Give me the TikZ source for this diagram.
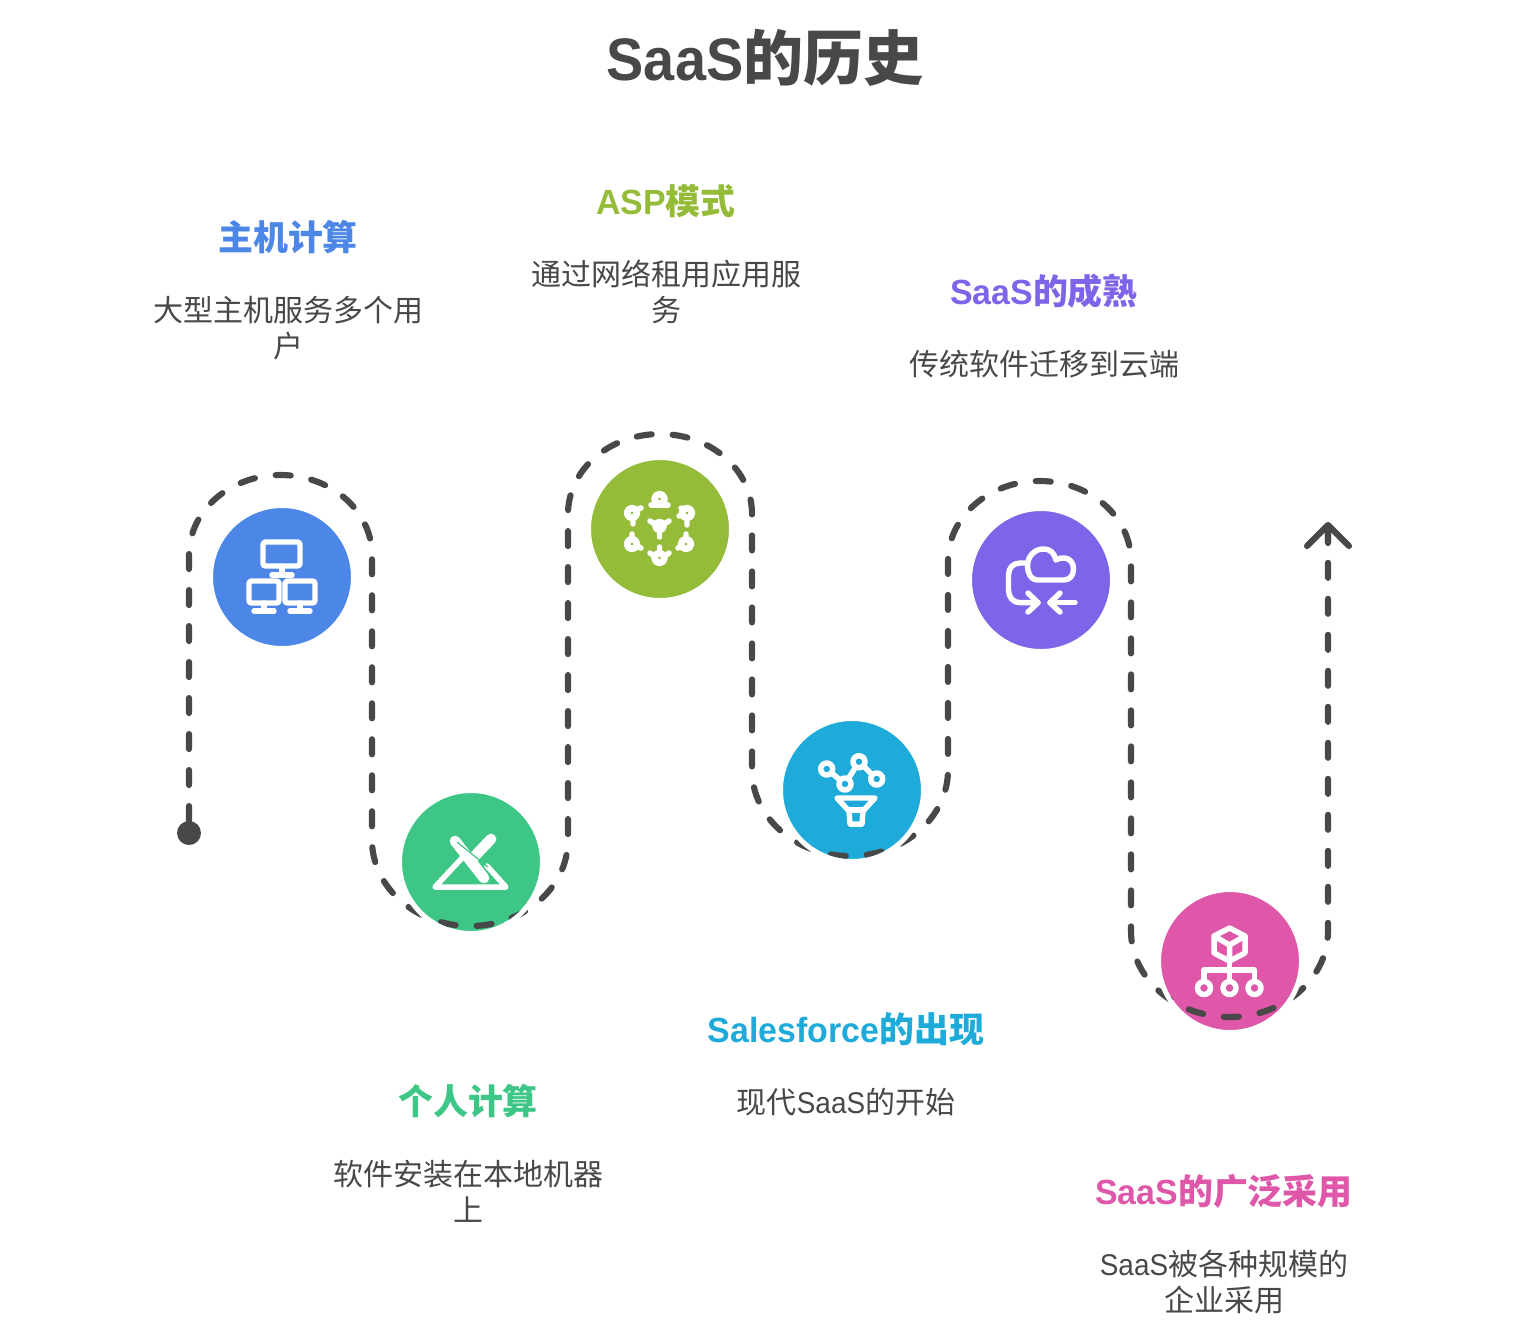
\documentclass[tikz,border=0pt]{standalone}
\usepackage{fontspec}
\setmainfont[FakeStretch=0.93]{Liberation Sans}
\newfontfamily\headfont[FakeStretch=0.97]{Liberation Sans}
\newfontfamily\cjk{Noto Sans CJK SC}
\definecolor{darkText}{HTML}{484848}
\definecolor{mainBlue}{HTML}{4C87E8}
\definecolor{pcGreen}{HTML}{3EC686}
\definecolor{aspOlive}{HTML}{94BC38}
\definecolor{sfCyan}{HTML}{1EABDA}
\definecolor{matPurple}{HTML}{7E64E8}
\definecolor{wideOrchid}{HTML}{DE57A8}
\newcommand{\routePath}{(vStart) -- (189,555) arc (180:360:91.5 and 80) -- (372,840) arc (180:0:98 and 86) -- (568,514) arc (180:360:92 and 80) -- (752,770) arc (180:0:98 and 86) -- (948,561) arc (180:360:91.5 and 80) -- (1131,931) arc (180:0:98.5 and 86) -- (vEnd)}
\tikzset{
	route/.style={draw=darkText,line width=4.6pt,line cap=round,dash pattern=on 11.25pt off 15.75pt},
	bubble/.style={circle,draw=white,line width=3.75pt,minimum size=107.25pt,inner sep=0pt},
	icon/.style={draw=white,line width=4.1pt,line cap=round,line join=round},
	blob/.style={icon,line width=5pt},
	headline/.style={font=\headfont\fontsize{26.2pt}{30pt}\selectfont\bfseries,inner sep=0pt},
	bodytext/.style={text=darkText,font=\fontsize{22.5pt}{27pt}\selectfont,align=center,inner sep=0pt}
}
\begin{document}
\begin{tikzpicture}[x=0.75pt,y=-0.75pt]
\useasboundingbox (0,0) rectangle (1530,1343);

%define coordinates
\coordinate (vStart) at (189,821);
\coordinate (vEnd) at (1328,525);
\coordinate (vDot) at (189,833);
\coordinate (vTipLeft) at (1307,546);
\coordinate (vTipRight) at (1349,546);
\coordinate (vTipStem) at (1328,543);

%draw title
\node[text=darkText,font=\fontsize{45pt}{50pt}\selectfont\bfseries,inner sep=0pt] (title) at (765,57.5) {SaaS{\cjk 的历史}};

%draw route
\draw[route] \routePath;
\fill[darkText] (vDot) circle (9pt);
\draw[darkText,line width=4.6pt,line cap=round,line join=round] (vTipLeft) -- (vEnd) -- (vTipRight) (vEnd) -- (vTipStem);

%draw bubbles
\node[bubble,fill=mainBlue] (bMain) at (282,577) {};
\node[bubble,fill=pcGreen] (bPc) at (471,862) {};
\node[bubble,fill=aspOlive] (bAsp) at (660,529) {};
\node[bubble,fill=sfCyan] (bSf) at (852,790) {};
\node[bubble,fill=matPurple] (bMat) at (1041,580) {};
\node[bubble,fill=wideOrchid] (bWide) at (1230,961) {};

%route runs over the bubbles at the bottom
\begin{scope}
\clip (bPc.center) circle (51.75pt) (bSf.center) circle (51.75pt) (bWide.center) circle (51.75pt);
\draw[route] \routePath;
\end{scope}

%icon mainframe
\draw[icon,rounded corners=2pt] (263,542) rectangle (300,566);
\draw[icon,rounded corners=2pt] (249,581) rectangle (279,603);
\draw[icon,rounded corners=2pt] (285,581) rectangle (315,603);
\draw[icon] (282,566) -- (282,575) (272,575) -- (292,575);
\draw[icon] (264,603) -- (264,611) (254,611) -- (274,611);
\draw[icon] (300,603) -- (300,611) (290,611) -- (310,611);

%icon pc
\draw[icon] (462,858) -- (435,887) -- (506,887) -- (487,866);
\draw[icon,line width=8pt] (455,841) -- (484,878);
\draw[icon,line width=8pt] (491,839) -- (473,858);
\draw[pcGreen,line width=0.9pt] (457,842) -- (488,867);

%icon asp
\draw[blob,fill=aspOlive] (659.5,499) circle (5);
\draw[icon] (651,505) -- (668,505);
\draw[blob,fill=aspOlive] (632,513) circle (5);
\draw[icon] (641,508) -- (636,510) (633,518) -- (633,524);
\draw[blob,fill=aspOlive] (687,513) circle (5);
\draw[icon] (679,516) -- (682,515) (681,508) -- (684,509) (687,518) -- (687,525);
\draw[blob,fill=aspOlive] (632,544) circle (5);
\draw[icon] (632,534) -- (632,539) (641,548) -- (637,546);
\draw[blob,fill=aspOlive] (686,544) circle (5);
\draw[icon] (686,534) -- (686,539) (678,548) -- (681,546);
\draw[blob,fill=aspOlive] (659.5,558) circle (5);
\draw[icon] (659.5,547) -- (659.5,553) (650,553) -- (654,556) (669,553) -- (665,556);
\draw[blob,fill=aspOlive] (659.5,526) circle (4);
\draw[icon] (650,521) -- (655,524) (669,521) -- (664,524) (659.5,531) -- (659.5,537);

%icon salesforce
\draw[icon] (826.7,769) -- (845,784) -- (859,761.7) -- (876.7,779);
\draw[icon,fill=sfCyan] (826.7,769) circle (6);
\draw[icon,fill=sfCyan] (845,784) circle (6);
\draw[icon,fill=sfCyan] (859,761.7) circle (6);
\draw[icon,fill=sfCyan] (876.7,779) circle (6);
\draw[icon] (837,798) -- (875,798) -- (863,811) -- (862,824) -- (850,824) -- (849,811) -- cycle;
\draw[icon] (849,810) -- (863,810);

%icon maturity
\draw[icon] (1037,580) .. controls (1031,580) and (1027.5,573) .. (1027.5,566) .. controls (1027.5,556) and (1035,549) .. (1043,549) .. controls (1051,549) and (1054,553) .. (1056,560) .. controls (1059,558) and (1062,558) .. (1064,558) .. controls (1070,558) and (1073.5,563) .. (1073.5,569) .. controls (1073.5,575) and (1070,580) .. (1064,580) -- cycle;
\draw[icon] (1025,563) -- (1020,563) .. controls (1013,563) and (1008.5,568) .. (1008.5,575) -- (1008.5,590) .. controls (1008.5,597) and (1013,602.7) .. (1020,602.7) -- (1038,602.7);
\draw[icon] (1028,593) -- (1038,602.7) -- (1028,612);
\draw[icon] (1060,593) -- (1050,602.7) -- (1060,612);
\draw[icon] (1050,602.7) -- (1075,602.7);

%icon wide adoption
\draw[icon] (1229.5,928) -- (1245,936) -- (1245,953) -- (1229.5,961) -- (1214,953) -- (1214,936) -- cycle;
\draw[icon] (1214,936) -- (1229.5,945) -- (1245,936) (1229.5,945) -- (1229.5,961);
\draw[icon] (1229.5,961) -- (1229.5,982) (1204,982) -- (1204,970) -- (1254.5,970) -- (1254.5,982);
\draw[icon,fill=wideOrchid] (1204,988) circle (6.5);
\draw[icon,fill=wideOrchid] (1229.5,988) circle (6.5);
\draw[icon,fill=wideOrchid] (1254.5,988) circle (6.5);

%draw labels
\node[headline,text=mainBlue] (hMain) at (288,237) {\cjk 主机计算};
\node[bodytext] (tMain) at (288,328) {\cjk 大型主机服务多个用\\\cjk 户};
\node[headline,text=aspOlive] (hAsp) at (666,201) {ASP{\cjk 模式}};
\node[bodytext] (tAsp) at (666,292) {\cjk 通过网络租用应用服\\\cjk 务};
\node[headline,text=matPurple] (hMat) at (1044,291) {SaaS{\cjk 的成熟}};
\node[bodytext] (tMat) at (1044,364) {\cjk 传统软件迁移到云端};
\node[headline,text=pcGreen] (hPc) at (468,1101) {\cjk 个人计算};
\node[bodytext] (tPc) at (468,1191.5) {\cjk 软件安装在本地机器\\\cjk 上};
\node[headline,text=sfCyan] (hSf) at (846,1029) {Salesforce{\cjk 的出现}};
\node[bodytext] (tSf) at (846,1102) {{\cjk 现代}SaaS{\cjk 的开始}};
\node[headline,text=wideOrchid] (hWide) at (1224,1191) {SaaS{\cjk 的广泛采用}};
\node[bodytext] (tWide) at (1224,1282) {SaaS{\cjk 被各种规模的}\\\cjk 企业采用};

\end{tikzpicture}
\end{document}
